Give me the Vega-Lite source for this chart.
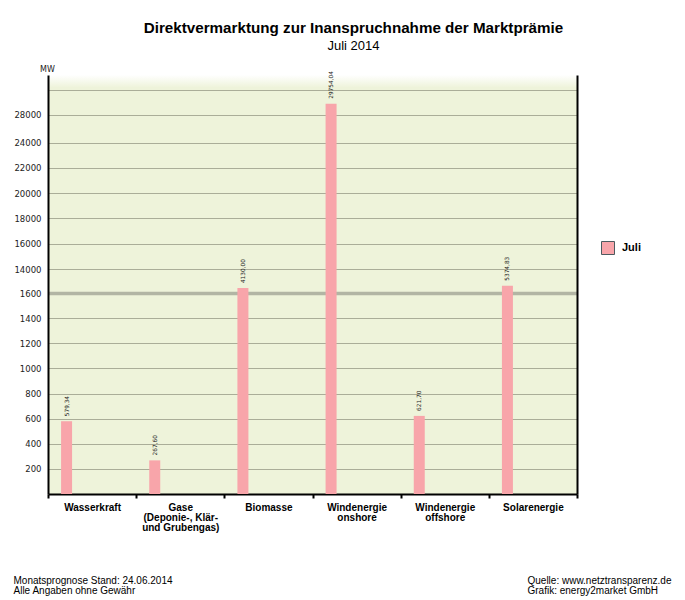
{
  "$schema": "https://vega.github.io/schema/vega-lite/v6.json",
  "autosize": "none",
  "width": 529,
  "height": 419,
  "padding": {"left": 48, "top": 75, "right": 108, "bottom": 106},
  "background": "white",
  "config": {
    "locale": {"number": {"decimal": ",", "thousands": ".", "grouping": [3], "currency": ["", " €"]}},
    "font": "Liberation Sans",
    "view": {
      "stroke": null,
      "fill": {"gradient": "linear", "x1": 0, "y1": 0, "x2": 0, "y2": 1, "stops": [
        {"offset": 0, "color": "#ffffff"},
        {"offset": 0.03, "color": "#eef3da"},
        {"offset": 1, "color": "#eef3da"}
      ]}
    }
  },
  "title": {
    "text": "Direktvermarktung zur Inanspruchnahme der Marktprämie",
    "subtitle": "Juli 2014",
    "anchor": "middle",
    "frame": "group",
    "dx": 41,
    "offset": 12,
    "font": "Liberation Sans",
    "fontSize": 15.2,
    "fontWeight": "bold",
    "color": "#000000",
    "subtitleFont": "Liberation Sans",
    "subtitleFontSize": 13,
    "subtitleColor": "#000000",
    "subtitlePadding": 4
  },
  "data": {
    "values": [
      {"quelle": "Wasserkraft", "mw": 579.34, "monat": "Juli"},
      {"quelle": "Gase|(Deponie-, Klär-|und Grubengas)", "mw": 267.60, "monat": "Juli"},
      {"quelle": "Biomasse", "mw": 4130.00, "monat": "Juli"},
      {"quelle": "Windenergie|onshore", "mw": 29754.04, "monat": "Juli"},
      {"quelle": "Windenergie|offshore", "mw": 621.70, "monat": "Juli"},
      {"quelle": "Solarenergie", "mw": 5374.83, "monat": "Juli"}
    ]
  },
  "encoding": {
    "x": {
      "field": "quelle",
      "type": "nominal",
      "sort": null,
      "scale": {"paddingInner": 0, "paddingOuter": 0},
      "axis": {
        "labelExpr": "isString(datum.value) ? split(datum.value, '|') : ''",
        "labelAngle": 0,
        "labelFont": "Liberation Sans",
        "labelFontSize": 10,
        "labelFontWeight": "bold",
        "labelColor": "#000000",
        "labelLineHeight": 10,
        "labelPadding": 4,
        "labelBaseline": "top",
        "tickBand": "extent",
        "tickSize": 4,
        "tickWidth": 2,
        "tickColor": "#000000",
        "domainColor": "#000000",
        "domainWidth": 2,
        "grid": false,
        "title": ["Monatsprognose Stand: 24.06.2014", "Alle Angaben ohne Gewähr"],
        "titleX": -35,
        "titleY": 89,
        "titleAlign": "left",
        "titleBaseline": "alphabetic",
        "titleAnchor": "start",
        "titleAngle": 0,
        "titleFont": "Liberation Sans",
        "titleFontSize": 10,
        "titleFontWeight": "normal",
        "titleColor": "#000000",
        "titleLineHeight": 10
      }
    }
  },
  "layer": [
    {
      "mark": {"type": "bar", "width": 11, "xOffset": -25.5},
      "encoding": {
        "y": {
          "field": "mw",
          "type": "quantitative",
          "scale": {"domain": [0, 1600, 14000, 24000, 28000, 32000, 34400], "range": [419, 218, 194, 67.5, 39.5, 15, 0], "nice": false, "zero": false},
          "axis": {
            "orient": "left",
            "values": [200, 400, 600, 800, 1000, 1200, 1400, 1600, 14000, 16000, 18000, 20000, 22000, 24000, 28000, 32000],
            "format": "d",
            "labelExpr": "datum.value == 32000 ? '' : datum.label",
            "labelFont": "DejaVu Sans",
            "labelFontSize": 8.5,
            "labelColor": "#222222",
            "labelPadding": 7,
            "ticks": false,
            "domainColor": "#000000",
            "domainWidth": 2,
            "grid": true,
            "gridColor": {"condition": {"test": "datum.value == 1600", "value": "#b2b5a4"}, "value": "#aaad98"},
            "gridWidth": {"condition": {"test": "datum.value == 1600", "value": 3.5}, "value": 1.2},
            "title": "MW",
            "titleAngle": 0,
            "titleX": -1,
            "titleY": -4,
            "titleAlign": "center",
            "titleBaseline": "alphabetic",
            "titleFont": "DejaVu Sans",
            "titleFontSize": 8,
            "titleFontWeight": "normal",
            "titleColor": "#222222"
          }
        },
        "color": {
          "field": "monat",
          "type": "nominal",
          "scale": {"range": ["#f8a5aa"]},
          "legend": {
            "orient": "none",
            "legendX": 553,
            "legendY": 166,
            "title": null,
            "padding": 0,
            "symbolType": "square",
            "symbolSize": 169,
            "symbolStrokeColor": "#4d5b5f",
            "symbolStrokeWidth": 1,
            "symbolOpacity": 1,
            "labelFont": "Liberation Sans",
            "labelFontSize": 11,
            "labelFontWeight": "bold",
            "labelColor": "#000000",
            "labelOffset": 7
          }
        }
      }
    },
    {
      "mark": {"type": "text", "angle": 270, "align": "left", "baseline": "middle", "dx": 5, "xOffset": -25.5, "font": "DejaVu Sans", "fontSize": 5.8, "color": "#222222"},
      "encoding": {
        "y": {
          "field": "mw",
          "type": "quantitative",
          "scale": {"domain": [0, 1600, 14000, 24000, 28000, 32000, 34400], "range": [419, 218, 194, 67.5, 39.5, 15, 0], "nice": false, "zero": false},
          "axis": {
            "orient": "right",
            "labels": false,
            "ticks": false,
            "grid": false,
            "domainColor": "#000000",
            "domainWidth": 2,
            "title": ["Quelle: www.netztransparenz.de", "Grafik:  energy2market GmbH"],
            "titleAngle": 0,
            "titleX": -50,
            "titleY": 508,
            "titleAlign": "left",
            "titleBaseline": "alphabetic",
            "titleFont": "Liberation Sans",
            "titleFontSize": 10,
            "titleFontWeight": "normal",
            "titleColor": "#000000",
            "titleLineHeight": 10
          }
        },
        "text": {"field": "mw", "type": "quantitative", "format": ".2f"}
      }
    }
  ],
  "resolve": {"axis": {"y": "independent"}}
}
